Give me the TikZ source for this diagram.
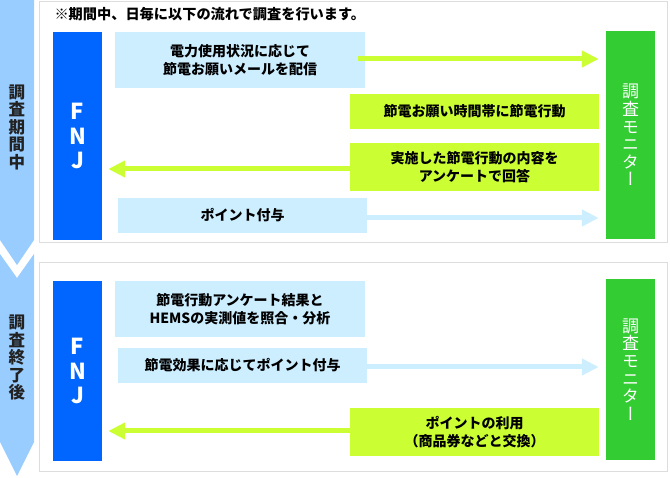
\documentclass[tikz,border=0pt]{standalone}
\usepackage{fontspec}
\setmainfont{Noto Sans CJK JP}
\newfontfamily\jpv[RawFeature=+vert]{Noto Sans CJK JP}
\usetikzlibrary{arrows.meta}

\definecolor{bandblue}{HTML}{99CCFF}
\definecolor{fnjblue}{HTML}{0066FF}
\definecolor{mongreen}{HTML}{33CC33}
\definecolor{paleblue}{HTML}{CCEEFF}
\definecolor{boxlime}{HTML}{CCFF33}
\definecolor{panelgray}{HTML}{DDDDDD}
\definecolor{bandtext}{HTML}{222222}

\begin{document}
\begin{tikzpicture}[x=1pt,y=-1pt,
  panel/.style={draw=panelgray,line width=1pt},
  actor/.style={inner sep=0pt,minimum width=49pt,text=white,align=center},
  fnj/.style={actor,fill=fnjblue,font=\bfseries\fontsize{22}{24.5}\selectfont},
  monitor/.style={actor,fill=mongreen,font=\jpv\fontsize{17}{17.6}\selectfont},
  msgbox/.style={inner sep=0pt,minimum width=250pt,align=center,
    font=\bfseries\fontsize{14}{18}\selectfont},
  bluebox/.style={msgbox,fill=paleblue},
  limebox/.style={msgbox,fill=boxlime},
  limearrow/.style={draw=boxlime,line width=5pt,-{Triangle[length=17pt,width=16pt]}},
  bluearrow/.style={draw=paleblue,line width=5pt,-{Triangle[length=17pt,width=16pt]}},
  phase/.style={text=bandtext,align=center,font=\bfseries\fontsize{16.5}{17.5}\selectfont}
]
\useasboundingbox (0,0) rectangle (670,478);

% left band
\fill[bandblue] (0,0) -- (34,0) -- (34,240) -- (17,265) -- (0,240) -- cycle;
\fill[bandblue] (0,254) -- (17,278) -- (34,254) -- (34,442) -- (17,476) -- (0,442) -- cycle;
\node[phase] (during) at (17,127) {調\\査\\期\\間\\中};
\node[phase] (after) at (17,358) {調\\査\\終\\了\\後};

% panels
\draw[panel] (39.5,1.5) rectangle (667.5,243);
\draw[panel] (39.5,263) rectangle (667.5,472);
\node[anchor=west,font=\bfseries\fontsize{14.2}{16}\selectfont] (note) at (51,14)
  {※期間中、日毎に以下の流れで調査を行います。};

% upper panel
\node[fnj,minimum height=208pt] (fnjA) at (77.5,136) {F\\N\\J};
\node[monitor,minimum height=208pt] (monA) at (630.5,135) {調\\査\\モ\\ニ\\タ\\ー};
\node[bluebox,minimum height=56pt] (mail) at (240,60) {電力使用状況に応じて\\節電お願いメールを配信};
\node[limebox,minimum width=249pt,minimum height=35pt] (act) at (474.5,111.5) {節電お願い時間帯に節電行動};
\node[limebox,minimum width=249pt,minimum height=48pt] (answer) at (474.5,167) {実施した節電行動の内容を\\アンケートで回答};
\node[bluebox,minimum width=249pt,minimum height=35pt] (point) at (242.5,215.5) {ポイント付与};

\draw[limearrow,shorten >=7pt] ([xshift=-7pt,yshift=1pt]mail.east) -- ([yshift=1pt]mail.east -| monA.west);
\draw[limearrow,shorten >=6pt] ([yshift=-2pt]answer.west) -- ([yshift=-2pt]answer.west -| fnjA.east);
\draw[bluearrow,shorten >=7pt] ([yshift=-2.5pt]point.east) -- ([yshift=-2.5pt]point.east -| monA.west);

% lower panel
\node[fnj,minimum height=180pt] (fnjB) at (77.5,371) {F\\N\\J};
\node[monitor,minimum height=181pt] (monB) at (630.5,369.5) {調\\査\\モ\\ニ\\タ\\ー};
\node[bluebox,minimum height=56pt] (hems) at (240,309) {節電行動アンケート結果と\\HEMSの実測値を照合・分析};
\node[bluebox,minimum width=249pt,minimum height=35pt] (effect) at (242.5,365.5) {節電効果に応じてポイント付与};
\node[limebox,minimum width=249pt,minimum height=48pt] (use) at (474.5,432) {ポイントの利用\\（商品券などと交換）};

\draw[bluearrow,shorten >=7pt] ([yshift=-1.5pt]effect.east) -- ([yshift=-1.5pt]effect.east -| monB.west);
\draw[limearrow,shorten >=6pt] ([yshift=1pt]use.west) -- ([yshift=1pt]use.west -| fnjB.east);
\end{tikzpicture}
\end{document}
